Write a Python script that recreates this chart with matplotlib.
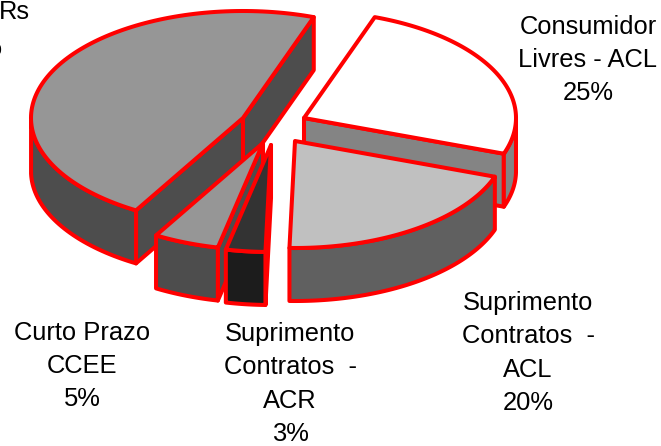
import numpy as np
import matplotlib
matplotlib.use("Agg")
import matplotlib.pyplot as plt
from matplotlib.patches import Polygon

# data
categories = ["Consumidor\nLivres - ACL", "Suprimento\nContratos  -\nACL",
              "Suprimento\nContratos  -\nACR", "Curto Prazo\nCCEE", "Rs"]
shares = [25, 20, 3, 5, 47]

# pie geometry (pixels)
START = 70.5
RX, RY, DEPTH = 212, 107, 53
apex = [(304, 118), (295, 141), (271, 145), (263, 143), (243, 118)]
top_col = ["#FFFFFF", "#C0C0C0", "#333333", "#969696", "#969696"]
side_col = ["#848484", "#606060", "#1C1C1C", "#4D4D4D", "#4D4D4D"]
wall_col = ["#848484", "#606060", "#333333", "#4D4D4D", "#4D4D4D"]
draw_order = [0, 1, 4, 3, 2]
RED = "#FF0000"
LW = 2.9

fig = plt.figure(figsize=(6.61, 4.46), dpi=100)
ax = fig.add_axes([0, 0, 1, 1])
ax.set_xlim(0, 661)
ax.set_ylim(446, 0)
ax.axis("off")

edges = START - np.cumsum([0] + shares) * 3.6


def pt(c, t):
    t = np.radians(t)
    return c[0] + RX * np.cos(t), c[1] - RY * np.sin(t)


def poly(points, color):
    ax.add_patch(Polygon(points, closed=True, facecolor=color, edgecolor=RED,
                         linewidth=LW, joinstyle="round"))


for i in draw_order:
    c = apex[i]
    t0, t1 = edges[i], edges[i + 1]   # clockwise from t0 to t1
    for t, facing in ((t0, np.cos(np.radians(t0)) < 0),
                      (t1, np.cos(np.radians(t1)) > 0)):
        if facing:
            x, y = pt(c, t)
            poly([c, (x, y), (x, y + DEPTH), (c[0], c[1] + DEPTH)], wall_col[i])
    ts = np.linspace(t0, t1, 120)
    vis = ts[np.sin(np.radians(ts)) <= 0.0]
    if len(vis) > 1:
        xs, ys = pt(c, vis)
        front = list(zip(xs, ys)) + list(zip(xs[::-1], ys[::-1] + DEPTH))
        poly(front, side_col[i])
    xs, ys = pt(c, ts)
    poly([c] + list(zip(xs, ys)), top_col[i])

font = dict(family="Liberation Sans", fontsize=18.4, color="black",
            ha="center", va="center", multialignment="center", linespacing=1.5)


def label(x, y, i):
    ax.text(x, y, f"{categories[i]}\n{shares[i]}%", **font)


label(588, 60, 0)
label(528, 353, 1)
label(290, 384, 2)
label(82, 366, 3)
ax.text(30, 12, categories[4], **{**font, "ha": "right"})
ax.text(-23, 48, f"{shares[4]}%", **font)

fig.savefig("out.png", dpi=100)
